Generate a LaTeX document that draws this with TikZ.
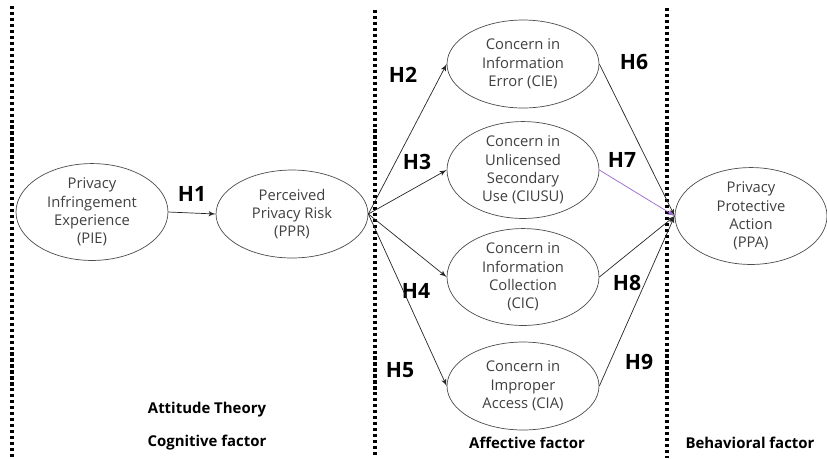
\documentclass[tikz,border=0pt]{standalone}
\usepackage{fontspec}
\setmainfont{Open Sans}
\usepackage{tikz}
\usetikzlibrary{shapes.geometric, arrows}
\definecolor{txtgray}{HTML}{404040}
\definecolor{h7purple}{HTML}{9966CC}
\tikzstyle{construct} = [ellipse, draw=black!70, text=txtgray, align=center,
    inner sep=0pt, minimum width=3.04cm, minimum height=1.76cm,
    font=\fontsize{8.4}{10.5}\selectfont]
\tikzstyle{hyp} = [font=\bfseries\fontsize{12}{14}\selectfont]
\tikzstyle{factor} = [font=\bfseries\fontsize{8.5}{10}\selectfont]
\tikzstyle{divider} = [line width=2pt, dash pattern=on 1.8pt off 1.6pt]
\tikzstyle{arrow} = [draw, -latex', black!85]

\begin{document}
\begin{tikzpicture}[x=0.02cm, y=-0.02cm]
    \useasboundingbox (0,0) rectangle (827,458);

    % Dividers
    \draw [divider] (12,6) -- (12,458);
    \draw [divider] (375,10) -- (375,458);
    \draw [divider] (667,8) -- (667,458);

    % Nodes
    \node [construct] (pie) at (92,212) {Privacy\\Infringement\\Experience\\(PIE)};
    \node [construct] (ppr) at (292,214) {Perceived\\Privacy Risk\\(PPR)};
    \node [construct] (cie) at (523,64) {Concern in\\Information\\Error (CIE)};
    \node [construct] (ciusu) at (523,170) {Concern in\\Unlicensed\\Secondary\\Use (CIUSU)};
    \node [construct] (cic) at (523,277) {Concern in\\Information\\Collection\\(CIC)};
    \node [construct] (cia) at (523,386) {Concern in\\Improper\\Access (CIA)};
    \node [construct] (ppa) at (751,216) {Privacy\\Protective\\Action\\(PPA)};

    % Hypothesis labels
    \node [hyp] (h1) at (192,194) {H1};
    \node [hyp] (h2) at (403,75) {H2};
    \node [hyp] (h3) at (417,162) {H3};
    \node [hyp] (h4) at (416,291) {H4};
    \node [hyp] (h5) at (400,370) {H5};
    \node [hyp] (h6) at (634,62) {H6};
    \node [hyp] (h7) at (622,160) {H7};
    \node [hyp] (h8) at (627,283) {H8};
    \node [hyp] (h9) at (639,362) {H9};

    % Factor labels
    \node [factor] (theory) at (207,410) {Attitude Theory};
    \node [factor] (cognitive) at (207,443) {Cognitive factor};
    \node [factor] (affective) at (527,443) {Affective factor};
    \node [factor] (behavioral) at (750,443) {Behavioral factor};

    % Arrows
    \draw [arrow] (pie.east) -- (ppr.west);
    \draw [arrow] (ppr.east) -- (cie.west);
    \draw [arrow] (ppr.east) -- (ciusu.west);
    \draw [arrow] (ppr.east) -- (cic.west);
    \draw [arrow] (ppr.east) -- (cia.west);
    \draw [arrow] (cie.east) -- (ppa.west);
    \draw [arrow, h7purple] (ciusu.east) -- (ppa.west);
    \draw [arrow] (cic.east) -- (ppa.west);
    \draw [arrow] (cia.east) -- (ppa.west);

\end{tikzpicture}
\end{document}
